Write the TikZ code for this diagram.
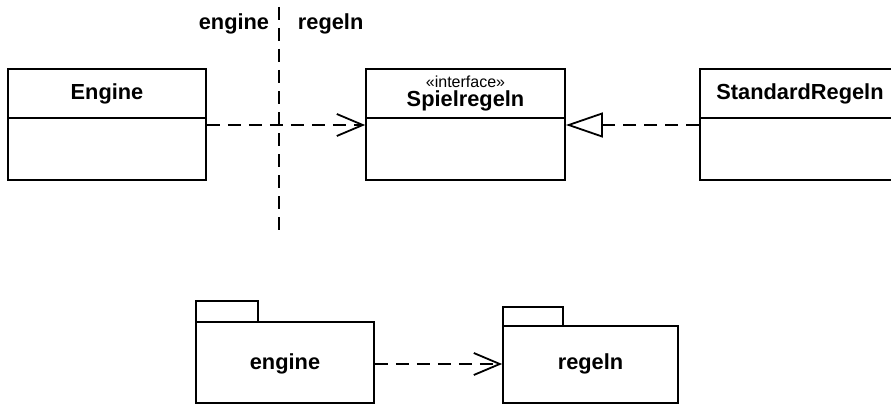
\documentclass[tikz,border=0pt]{standalone}
\usepackage{fontspec}
\setmainfont{Liberation Sans}
\usetikzlibrary{arrows.meta}
\begin{document}
\begin{tikzpicture}[x=1pt,y=-1pt,
  line width=1.8pt,
  box/.style={draw, rectangle, inner sep=0pt, line width=1.8pt},
  title/.style={font=\fontsize{21.8}{26}\selectfont\bfseries, inner sep=0pt},
  stereo/.style={font=\fontsize{16}{19}\selectfont, inner sep=0pt},
  dashline/.style={dash pattern=on 13pt off 8pt},
  depend/.style={dashline, -{Straight Barb[length=26pt,width=22pt]}},
  realize/.style={dashline, -{Triangle[open,length=37pt,width=25pt,fill=white]}},
]
\clip (0,0) rectangle (891,404);

% class boxes: header + body compartment
\node[box, minimum width=198pt, minimum height=49pt] (engHead) at (107,93.5) {};
\node[box, minimum width=198pt, minimum height=62pt] (engBody) at (107,149) {};
\node[box, minimum width=199pt, minimum height=49pt] (spielHead) at (465.5,93.5) {};
\node[box, minimum width=199pt, minimum height=62pt] (spielBody) at (465.5,149) {};
\node[box, minimum width=200pt, minimum height=49pt] (stdHead) at (800,93.5) {};
\node[box, minimum width=200pt, minimum height=62pt] (stdBody) at (800,149) {};

\node[title, anchor=base] (engName) at (107,99) {Engine};
\node[stereo, anchor=base] (spielStereo) at (465.5,87.5) {«interface»};
\node[title, anchor=base] (spielName) at (465.5,106.5) {Spielregeln};
\node[title, anchor=base] (stdName) at (800,99) {StandardRegeln};

% package boundary
\coordinate (sepTop) at (279,7);
\coordinate (sepBot) at (279,230);
\draw[dashline] (sepTop) -- (sepBot);
\node[title, anchor=base east] (lblEngine) at (270,30) {engine};
\node[title, anchor=base west] (lblRegeln) at (297,30) {regeln};

% dependency and realization
\coordinate (rowY) at (0,125);
\draw[depend] (engBody.east |- rowY) -- (spielBody.west |- rowY);
\draw[realize] (stdBody.west |- rowY) -- (spielBody.east |- rowY);

% packages
\node[box, minimum width=62pt, minimum height=21pt] (pkgEngTab) at (227,311.5) {};
\node[box, minimum width=178pt, minimum height=81pt] (pkgEng) at (285,362.5) {};
\node[box, minimum width=60pt, minimum height=19pt] (pkgRegTab) at (533,316.5) {};
\node[box, minimum width=175pt, minimum height=77pt] (pkgReg) at (590.5,364.5) {};
\node[title, anchor=base] (pkgEngName) at (285,369) {engine};
\node[title, anchor=base] (pkgRegName) at (590.5,369) {regeln};

\coordinate (pkgY) at (0,364);
\draw[depend] (pkgEng.east |- pkgY) -- (pkgReg.west |- pkgY);
\end{tikzpicture}
\end{document}
